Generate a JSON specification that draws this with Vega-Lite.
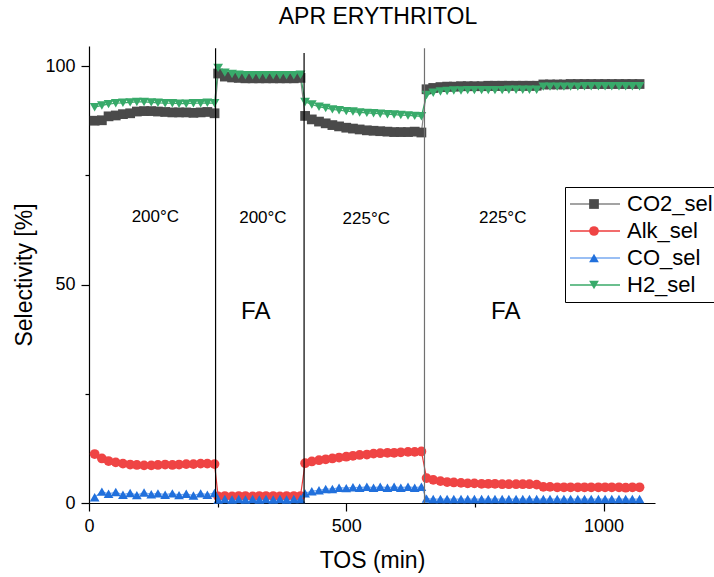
{
  "$schema": "https://vega.github.io/schema/vega-lite/v6.json",
  "width": 566,
  "height": 457,
  "autosize": {"type": "none"},
  "padding": {"left": 89, "top": 46, "right": 59, "bottom": 74},
  "background": "white",
  "config": {
    "font": "Liberation Sans",
    "view": {"stroke": null},
    "axis": {
      "grid": false,
      "domainColor": "black",
      "domainWidth": 1.2,
      "tickColor": "black",
      "tickWidth": 1.2,
      "labelColor": "black",
      "titleColor": "black",
      "labelFont": "Liberation Sans",
      "titleFont": "Liberation Sans",
      "titleFontWeight": "normal"
    }
  },
  "title": {
    "text": "APR ERYTHRITOL",
    "font": "Liberation Sans",
    "fontSize": 23,
    "fontWeight": "normal",
    "color": "black",
    "anchor": "middle",
    "dx": 6,
    "dy": 21,
    "offset": 20,
    "baseline": "alphabetic"
  },
  "datasets": {
    "sel": [
      {"t": 11, "CO2_sel": 87.5, "Alk_sel": 11.2, "CO_sel": 1.3, "H2_sel": 90.6},
      {"t": 25, "CO2_sel": 87.6, "Alk_sel": 10.2, "CO_sel": 2.6, "H2_sel": 91.0},
      {"t": 38, "CO2_sel": 88.5, "Alk_sel": 9.6, "CO_sel": 2.1, "H2_sel": 91.3},
      {"t": 52, "CO2_sel": 88.7, "Alk_sel": 9.3, "CO_sel": 2.5, "H2_sel": 91.5},
      {"t": 66, "CO2_sel": 89.0, "Alk_sel": 9.0, "CO_sel": 1.9, "H2_sel": 91.6},
      {"t": 80, "CO2_sel": 89.2, "Alk_sel": 8.8, "CO_sel": 2.3, "H2_sel": 91.7},
      {"t": 93, "CO2_sel": 89.6, "Alk_sel": 8.7, "CO_sel": 1.8, "H2_sel": 91.8},
      {"t": 107, "CO2_sel": 89.7, "Alk_sel": 8.6, "CO_sel": 2.4, "H2_sel": 91.8},
      {"t": 121, "CO2_sel": 89.7, "Alk_sel": 8.6, "CO_sel": 2.0, "H2_sel": 91.7},
      {"t": 134, "CO2_sel": 89.6, "Alk_sel": 8.7, "CO_sel": 2.2, "H2_sel": 91.6},
      {"t": 148, "CO2_sel": 89.5, "Alk_sel": 8.8, "CO_sel": 1.9, "H2_sel": 91.5},
      {"t": 162, "CO2_sel": 89.4, "Alk_sel": 8.7, "CO_sel": 2.2, "H2_sel": 91.5},
      {"t": 175, "CO2_sel": 89.4, "Alk_sel": 8.8, "CO_sel": 1.8, "H2_sel": 91.4},
      {"t": 189, "CO2_sel": 89.4, "Alk_sel": 8.9, "CO_sel": 2.1, "H2_sel": 91.4},
      {"t": 203, "CO2_sel": 89.3, "Alk_sel": 8.9, "CO_sel": 1.7, "H2_sel": 91.5},
      {"t": 217, "CO2_sel": 89.4, "Alk_sel": 9.0, "CO_sel": 2.2, "H2_sel": 91.5},
      {"t": 230, "CO2_sel": 89.5, "Alk_sel": 9.0, "CO_sel": 1.9, "H2_sel": 91.6},
      {"t": 244, "CO2_sel": 89.2, "Alk_sel": 8.9, "CO_sel": 2.3, "H2_sel": 91.5},
      {"t": 251, "CO2_sel": 98.3, "Alk_sel": 1.5, "CO_sel": 0.8, "H2_sel": 99.6},
      {"t": 264, "CO2_sel": 97.6, "Alk_sel": 1.6, "CO_sel": 0.9, "H2_sel": 98.5},
      {"t": 278, "CO2_sel": 97.4, "Alk_sel": 1.5, "CO_sel": 0.8, "H2_sel": 98.2},
      {"t": 291, "CO2_sel": 97.3, "Alk_sel": 1.6, "CO_sel": 0.9, "H2_sel": 98.0},
      {"t": 304, "CO2_sel": 97.2, "Alk_sel": 1.6, "CO_sel": 0.8, "H2_sel": 97.9},
      {"t": 318, "CO2_sel": 97.2, "Alk_sel": 1.5, "CO_sel": 0.9, "H2_sel": 97.9},
      {"t": 331, "CO2_sel": 97.2, "Alk_sel": 1.6, "CO_sel": 0.8, "H2_sel": 97.9},
      {"t": 344, "CO2_sel": 97.2, "Alk_sel": 1.6, "CO_sel": 0.9, "H2_sel": 97.9},
      {"t": 358, "CO2_sel": 97.2, "Alk_sel": 1.6, "CO_sel": 0.8, "H2_sel": 97.9},
      {"t": 371, "CO2_sel": 97.2, "Alk_sel": 1.5, "CO_sel": 0.9, "H2_sel": 97.9},
      {"t": 384, "CO2_sel": 97.2, "Alk_sel": 1.6, "CO_sel": 0.8, "H2_sel": 97.9},
      {"t": 398, "CO2_sel": 97.2, "Alk_sel": 1.6, "CO_sel": 0.9, "H2_sel": 97.9},
      {"t": 411, "CO2_sel": 97.3, "Alk_sel": 1.6, "CO_sel": 0.9, "H2_sel": 98.0},
      {"t": 420, "CO2_sel": 88.6, "Alk_sel": 9.1, "CO_sel": 2.2, "H2_sel": 91.8},
      {"t": 433, "CO2_sel": 87.8, "Alk_sel": 9.5, "CO_sel": 2.7, "H2_sel": 91.2},
      {"t": 447, "CO2_sel": 87.3, "Alk_sel": 9.8, "CO_sel": 2.9, "H2_sel": 90.7},
      {"t": 460, "CO2_sel": 86.9, "Alk_sel": 10.0, "CO_sel": 3.2, "H2_sel": 90.4},
      {"t": 473, "CO2_sel": 86.5, "Alk_sel": 10.2, "CO_sel": 3.2, "H2_sel": 90.1},
      {"t": 486, "CO2_sel": 86.2, "Alk_sel": 10.4, "CO_sel": 3.5, "H2_sel": 89.9},
      {"t": 500, "CO2_sel": 85.9, "Alk_sel": 10.6, "CO_sel": 3.4, "H2_sel": 89.7},
      {"t": 513, "CO2_sel": 85.7, "Alk_sel": 10.8, "CO_sel": 3.6, "H2_sel": 89.6},
      {"t": 526, "CO2_sel": 85.5, "Alk_sel": 11.0, "CO_sel": 3.5, "H2_sel": 89.4},
      {"t": 540, "CO2_sel": 85.3, "Alk_sel": 11.1, "CO_sel": 3.7, "H2_sel": 89.3},
      {"t": 553, "CO2_sel": 85.2, "Alk_sel": 11.3, "CO_sel": 3.5, "H2_sel": 89.2},
      {"t": 566, "CO2_sel": 85.1, "Alk_sel": 11.4, "CO_sel": 3.7, "H2_sel": 89.1},
      {"t": 580, "CO2_sel": 85.0, "Alk_sel": 11.5, "CO_sel": 3.5, "H2_sel": 89.0},
      {"t": 593, "CO2_sel": 84.9, "Alk_sel": 11.5, "CO_sel": 3.7, "H2_sel": 88.9},
      {"t": 606, "CO2_sel": 84.9, "Alk_sel": 11.6, "CO_sel": 3.5, "H2_sel": 88.8},
      {"t": 620, "CO2_sel": 84.9, "Alk_sel": 11.7, "CO_sel": 3.7, "H2_sel": 88.7},
      {"t": 633, "CO2_sel": 85.0, "Alk_sel": 11.7, "CO_sel": 3.5, "H2_sel": 88.6},
      {"t": 646, "CO2_sel": 84.8, "Alk_sel": 11.8, "CO_sel": 3.7, "H2_sel": 88.5},
      {"t": 656, "CO2_sel": 94.7, "Alk_sel": 5.7, "CO_sel": 1.0, "H2_sel": 93.4},
      {"t": 669, "CO2_sel": 95.0, "Alk_sel": 5.3, "CO_sel": 0.9, "H2_sel": 93.9},
      {"t": 683, "CO2_sel": 95.2, "Alk_sel": 5.0, "CO_sel": 0.9, "H2_sel": 94.2},
      {"t": 696, "CO2_sel": 95.3, "Alk_sel": 4.8, "CO_sel": 0.9, "H2_sel": 94.3},
      {"t": 709, "CO2_sel": 95.3, "Alk_sel": 4.7, "CO_sel": 0.9, "H2_sel": 94.4},
      {"t": 723, "CO2_sel": 95.4, "Alk_sel": 4.6, "CO_sel": 0.9, "H2_sel": 94.4},
      {"t": 736, "CO2_sel": 95.4, "Alk_sel": 4.5, "CO_sel": 0.9, "H2_sel": 94.5},
      {"t": 749, "CO2_sel": 95.4, "Alk_sel": 4.5, "CO_sel": 0.9, "H2_sel": 94.5},
      {"t": 763, "CO2_sel": 95.4, "Alk_sel": 4.4, "CO_sel": 0.9, "H2_sel": 94.5},
      {"t": 776, "CO2_sel": 95.5, "Alk_sel": 4.4, "CO_sel": 0.9, "H2_sel": 94.5},
      {"t": 789, "CO2_sel": 95.5, "Alk_sel": 4.4, "CO_sel": 0.9, "H2_sel": 94.5},
      {"t": 803, "CO2_sel": 95.5, "Alk_sel": 4.3, "CO_sel": 0.9, "H2_sel": 94.5},
      {"t": 816, "CO2_sel": 95.5, "Alk_sel": 4.3, "CO_sel": 0.9, "H2_sel": 94.6},
      {"t": 830, "CO2_sel": 95.5, "Alk_sel": 4.3, "CO_sel": 0.9, "H2_sel": 94.6},
      {"t": 843, "CO2_sel": 95.5, "Alk_sel": 4.3, "CO_sel": 0.9, "H2_sel": 94.6},
      {"t": 856, "CO2_sel": 95.5, "Alk_sel": 4.3, "CO_sel": 0.9, "H2_sel": 94.6},
      {"t": 870, "CO2_sel": 95.5, "Alk_sel": 4.2, "CO_sel": 0.9, "H2_sel": 94.6},
      {"t": 883, "CO2_sel": 95.8, "Alk_sel": 3.7, "CO_sel": 0.9, "H2_sel": 95.3},
      {"t": 896, "CO2_sel": 95.8, "Alk_sel": 3.7, "CO_sel": 0.9, "H2_sel": 95.3},
      {"t": 910, "CO2_sel": 95.8, "Alk_sel": 3.6, "CO_sel": 0.9, "H2_sel": 95.3},
      {"t": 923, "CO2_sel": 95.8, "Alk_sel": 3.6, "CO_sel": 0.9, "H2_sel": 95.3},
      {"t": 936, "CO2_sel": 95.9, "Alk_sel": 3.6, "CO_sel": 0.9, "H2_sel": 95.3},
      {"t": 950, "CO2_sel": 95.9, "Alk_sel": 3.6, "CO_sel": 0.9, "H2_sel": 95.3},
      {"t": 963, "CO2_sel": 95.9, "Alk_sel": 3.6, "CO_sel": 0.9, "H2_sel": 95.4},
      {"t": 976, "CO2_sel": 95.9, "Alk_sel": 3.6, "CO_sel": 0.9, "H2_sel": 95.4},
      {"t": 990, "CO2_sel": 95.9, "Alk_sel": 3.6, "CO_sel": 0.9, "H2_sel": 95.4},
      {"t": 1003, "CO2_sel": 95.9, "Alk_sel": 3.6, "CO_sel": 0.9, "H2_sel": 95.4},
      {"t": 1016, "CO2_sel": 95.9, "Alk_sel": 3.6, "CO_sel": 0.9, "H2_sel": 95.4},
      {"t": 1030, "CO2_sel": 95.9, "Alk_sel": 3.6, "CO_sel": 0.9, "H2_sel": 95.4},
      {"t": 1043, "CO2_sel": 95.9, "Alk_sel": 3.5, "CO_sel": 0.9, "H2_sel": 95.4},
      {"t": 1056, "CO2_sel": 95.9, "Alk_sel": 3.6, "CO_sel": 0.9, "H2_sel": 95.4},
      {"t": 1070, "CO2_sel": 95.9, "Alk_sel": 3.6, "CO_sel": 0.9, "H2_sel": 95.4}
    ],
    "boundaries": [
      {"t": 246, "top": 104.1},
      {"t": 418, "top": 103.0},
      {"t": 652, "top": 104.1}
    ],
    "temperatures": [
      {"t": 129, "v": 65.4, "label": "200°C"},
      {"t": 338, "v": 65.2, "label": "200°C"},
      {"t": 539, "v": 65.0, "label": "225°C"},
      {"t": 804, "v": 65.2, "label": "225°C"}
    ],
    "feed": [
      {"t": 324, "v": 43.7, "label": "FA"},
      {"t": 810, "v": 43.8, "label": "FA"}
    ]
  },
  "layer": [
    {
      "data": {"name": "sel"},
      "transform": [
        {"fold": ["CO2_sel", "Alk_sel", "CO_sel", "H2_sel"], "as": ["line_series", "sel"]}
      ],
      "mark": {"type": "line", "strokeWidth": 1.2},
      "encoding": {
        "x": {
          "field": "t",
          "type": "quantitative",
          "scale": {"domain": [0, 1100], "nice": false, "zero": false},
          "axis": {
            "title": "TOS (min)",
            "titleFontSize": 23,
            "titlePadding": 14,
            "values": [0, 250, 500, 750, 1000],
            "format": "d",
            "labelExpr": "datum.value % 500 === 0 ? datum.label : ''",
            "tickSize": {"condition": {"test": "datum.value % 500 === 0", "value": 8}, "value": 4},
            "labelFontSize": 18,
            "labelPadding": 6,
            "labelFlush": false,
            "labelOverlap": false
          }
        },
        "y": {
          "field": "sel",
          "type": "quantitative",
          "scale": {"domain": [0, 104.6], "nice": false},
          "axis": {
            "title": "Selectivity [%]",
            "titleFontSize": 23,
            "titlePadding": 8,
            "values": [0, 25, 50, 75, 100],
            "format": "d",
            "labelExpr": "datum.value % 50 === 0 ? datum.label : ''",
            "tickSize": {"condition": {"test": "datum.value % 50 === 0", "value": 8}, "value": 4},
            "labelFontSize": 18,
            "labelPadding": 6,
            "labelFlush": false,
            "labelOverlap": false
          }
        },
        "stroke": {
          "field": "line_series",
          "type": "nominal",
          "scale": {
            "domain": ["CO2_sel", "Alk_sel", "CO_sel", "H2_sel"],
            "range": ["#858585", "#ee3b3b", "#78aaf0", "#3aaa68"]
          },
          "legend": {
            "orient": "none",
            "legendX": 476,
            "legendY": 141,
            "title": null,
            "symbolType": "M-5,0H5",
            "symbolSize": 100,
            "symbolOffset": 13,
            "symbolStrokeWidth": 1.5,
            "labelFont": "Liberation Sans",
            "labelFontSize": 22,
            "labelColor": "black",
            "labelOffset": 21,
            "labelLimit": 300,
            "strokeColor": "black",
            "padding": 6,
            "rowPadding": 5
          }
        }
      }
    },
    {
      "data": {"name": "sel"},
      "transform": [
        {"fold": ["CO2_sel", "Alk_sel", "CO_sel", "H2_sel"], "as": ["point_series", "sel"]}
      ],
      "mark": {"type": "point", "filled": true, "opacity": 1, "size": 95, "strokeWidth": 0},
      "encoding": {
        "x": {"field": "t", "type": "quantitative"},
        "y": {"field": "sel", "type": "quantitative"},
        "fill": {
          "field": "point_series",
          "type": "nominal",
          "scale": {
            "domain": ["CO2_sel", "Alk_sel", "CO_sel", "H2_sel", "none"],
            "range": ["#4a4a4a", "#ef4444", "#2170dc", "#38aa6a", "transparent"]
          },
          "legend": {
            "orient": "none",
            "legendX": 476,
            "legendY": 141,
            "title": null,
            "values": ["CO2_sel", "Alk_sel", "CO_sel", "H2_sel"],
            "symbolSize": 95,
            "symbolOffset": 12,
            "symbolStrokeWidth": 0,
            "labelFont": "Liberation Sans",
            "labelFontSize": 22,
            "labelOpacity": 0,
            "labelOffset": 21,
            "labelLimit": 300,
            "padding": 6,
            "rowPadding": 5
          }
        },
        "shape": {
          "field": "point_series",
          "type": "nominal",
          "scale": {
            "domain": ["CO2_sel", "Alk_sel", "CO_sel", "H2_sel", "none"],
            "range": ["square", "circle", "triangle-up", "triangle-down", "circle"]
          },
          "legend": {
            "orient": "none",
            "legendX": 476,
            "legendY": 141,
            "title": null,
            "values": ["CO2_sel", "Alk_sel", "CO_sel", "H2_sel"],
            "symbolSize": 95,
            "symbolOffset": 12,
            "symbolStrokeWidth": 0,
            "labelFont": "Liberation Sans",
            "labelFontSize": 22,
            "labelOpacity": 0,
            "labelOffset": 21,
            "labelLimit": 300,
            "padding": 6,
            "rowPadding": 5
          }
        },
        "order": {"field": "point_series", "type": "nominal"}
      }
    },
    {
      "data": {"name": "boundaries"},
      "transform": [{"filter": "datum.t < 600"}],
      "mark": {"type": "rule", "color": "black", "strokeWidth": 1.2},
      "encoding": {
        "x": {"field": "t", "type": "quantitative"},
        "y": {"field": "top", "type": "quantitative"},
        "y2": {"datum": 0}
      }
    },
    {
      "data": {"name": "boundaries"},
      "transform": [{"filter": "datum.t > 600"}],
      "mark": {"type": "rule", "color": "#707070", "strokeWidth": 1.2},
      "encoding": {
        "x": {"field": "t", "type": "quantitative"},
        "y": {"field": "top", "type": "quantitative"},
        "y2": {"datum": 0}
      }
    },
    {
      "data": {"name": "temperatures"},
      "mark": {"type": "text", "font": "Liberation Sans", "fontSize": 17, "color": "black", "align": "center", "baseline": "middle"},
      "encoding": {
        "x": {"field": "t", "type": "quantitative"},
        "y": {"field": "v", "type": "quantitative"},
        "text": {"field": "label", "type": "nominal"}
      }
    },
    {
      "data": {"name": "feed"},
      "mark": {"type": "text", "font": "Liberation Sans", "fontSize": 24, "color": "black", "align": "center", "baseline": "middle"},
      "encoding": {
        "x": {"field": "t", "type": "quantitative"},
        "y": {"field": "v", "type": "quantitative"},
        "text": {"field": "label", "type": "nominal"}
      }
    }
  ]
}
